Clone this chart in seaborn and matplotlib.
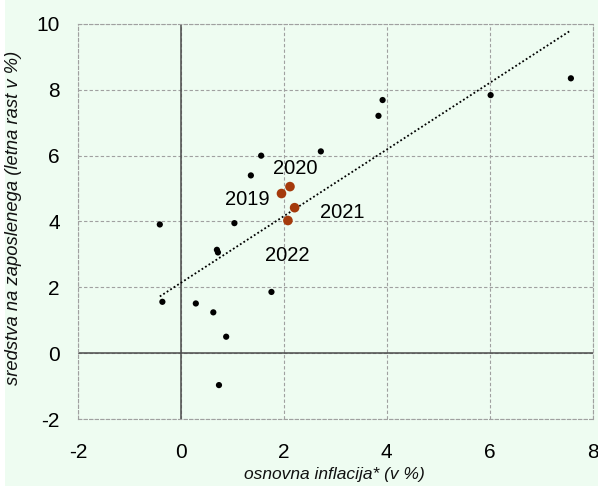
import numpy as np
import pandas as pd
import matplotlib
matplotlib.use("Agg")
import matplotlib.pyplot as plt
import seaborn as sns
from matplotlib.patches import Rectangle

# --- data ---
x_other = [-0.41, -0.36, 0.29, 0.63, 0.88, 0.74, 0.70, 0.72, 1.04, 1.36, 1.56, 1.76, 2.72, 3.84, 3.92, 6.02, 7.58]
y_other = [3.91, 1.56, 1.51, 1.24, 0.50, -0.97, 3.14, 3.06, 3.95, 5.40, 6.00, 1.86, 6.13, 7.21, 7.69, 7.84, 8.35]
years = ["2019", "2020", "2021", "2022"]
x_years = [1.955, 2.12, 2.21, 2.08]
y_years = [4.85, 5.06, 4.42, 4.03]
label_x = [1.30, 2.22, 3.13, 2.07]
label_y = [4.68, 5.61, 4.28, 2.98]
xticks = [-2, 0, 2, 4, 6, 8]
yticks = [-2, 0, 2, 4, 6, 8, 10]
xlabel = "osnovna inflacija* (v %)"
ylabel = "sredstva na zaposlenega (letna rast v %)"

sns.set_theme(style="white")
plt.rcParams['font.family'] = ['Liberation Sans Narrow', 'Liberation Sans', 'DejaVu Sans']

BG = "#EEFCF1"
BROWN = "#A53A0C"
W, H = 598, 486

fig = plt.figure(figsize=(W / 100, H / 100), dpi=100, facecolor=BG)
ax = fig.add_axes([78 / W, 1 - 419 / H, (592.5 - 78) / W, (419 - 24) / H])
ax.set_facecolor(BG)
fig.patches.append(Rectangle((0, 0), 5 / W, 1, transform=fig.transFigure,
                             facecolor="white", edgecolor="none", zorder=-1))

# trend line over all points
all_x = np.array(x_other + x_years)
all_y = np.array(y_other + y_years)
slope, intercept = np.polyfit(all_x, all_y, 1)
tx = np.array([all_x.min(), all_x.max()])
trend = pd.DataFrame({"x": tx, "y": slope * tx + intercept})
sns.lineplot(data=trend, x="x", y="y", ax=ax, color="black", lw=1.3,
             linestyle=(0, (1, 1.3)), zorder=3)

# axes lines at zero
ax.axvline(0, color="#4a4a4a", lw=1.1, zorder=2)
ax.axhline(0, color="#4a4a4a", lw=1.1, zorder=2)

df_o = pd.DataFrame({"x": x_other, "y": y_other})
df_y = pd.DataFrame({"x": x_years, "y": y_years})
sns.scatterplot(data=df_o, x="x", y="y", ax=ax, color="black", s=20,
                edgecolor="none", zorder=4)
sns.scatterplot(data=df_y, x="x", y="y", ax=ax, color=BROWN, s=48,
                edgecolor="none", zorder=5)

for t, lx, ly in zip(years, label_x, label_y):
    ax.text(lx, ly, t, ha="center", va="center", fontsize=14.5, color="black", zorder=6)

ax.set_xlim(-2, 8)
ax.set_ylim(-2, 10)
ax.set_xticks(xticks)
ax.set_yticks(yticks)
ax.set_xticklabels([str(v) for v in xticks])
ax.set_yticklabels([str(v) for v in yticks])
ax.tick_params(axis="both", length=0, labelsize=15, colors="black")
ax.tick_params(axis="x", pad=17)
ax.tick_params(axis="y", pad=13)

ax.grid(True, color="#a0a0a0", lw=0.8, linestyle=(0, (3, 2)))
for sp in ax.spines.values():
    sp.set_visible(True)
    sp.set_color("#a0a0a0")
    sp.set_linewidth(0.8)
    sp.set_linestyle((0, (3, 2)))

ax.set_xlabel("")
ax.set_ylabel("")
fig.text(334 / W, 1 - 474 / H, xlabel, ha="center", va="center", fontsize=12.5,
         style="italic", family=['Liberation Sans', 'DejaVu Sans'], color="#111111")
fig.text(14 / W, 1 - 218 / H, ylabel, ha="center", va="center", rotation=90, fontsize=13.2,
         style="italic", family=['Liberation Sans', 'DejaVu Sans'], color="#111111")

fig.savefig("out.png", dpi=100, facecolor=BG)
